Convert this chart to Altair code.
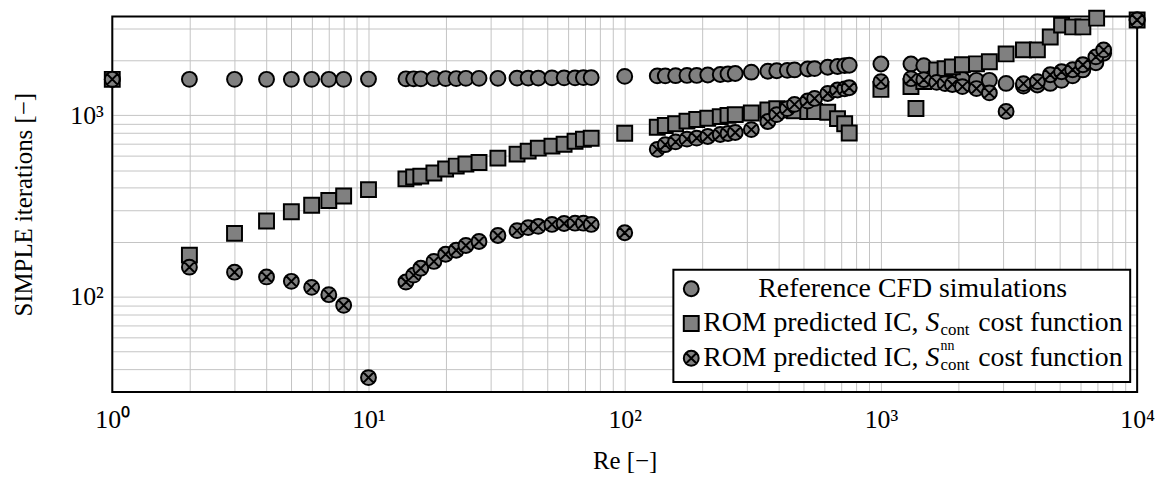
import altair as alt
import pandas as pd

# ---------------- data ----------------
re_ref = [1, 2, 3, 4, 5, 6, 7, 8, 10,
          14, 15, 16, 18, 20, 22, 24, 27, 32, 38, 42, 46, 52, 58, 64, 69, 74,
          100,
          134, 144, 158, 175, 191, 211, 236, 253, 270, 312, 362, 392, 431, 460, 518, 551, 620, 677, 722, 752,
          1000,
          1310, 1470, 1650, 1780, 1900, 2080, 2360, 2650, 3080, 3600, 4080, 4580, 5070, 5600, 6140, 6900, 7400,
          10000]
it_ref = [1580, 1580, 1580, 1580, 1580, 1580, 1580, 1580, 1585,
          1590, 1590, 1590, 1595, 1595, 1595, 1600, 1600, 1600, 1605, 1605, 1605, 1610, 1610, 1610, 1615, 1615,
          1640,
          1650, 1650, 1655, 1660, 1660, 1670, 1680, 1690, 1700, 1730, 1750, 1760, 1770, 1780, 1800, 1810, 1840, 1860, 1880, 1890,
          1920,
          1920, 1880, 1750, 1680, 1620, 1580, 1560, 1560, 1500, 1450, 1470, 1500, 1560, 1650, 1780, 1950, 2200,
          3350]

re_rom = [1, 2, 3, 4, 5, 6, 7, 8, 10,
          14, 15, 16, 18, 20, 22, 24, 27, 32, 38, 42, 46, 52, 58, 64, 69, 74,
          100,
          134, 144, 158, 175, 191, 211, 236, 253, 270, 312, 362, 392, 431, 460, 518, 551, 620, 677, 722, 752,
          1000,
          1310, 1370, 1470, 1650, 1780, 1900, 2080, 2360, 2650, 3080, 3600, 4080, 4580, 5070, 5600, 6140, 6950,
          10000]
it_rom = [1580, 170, 224, 262, 295, 320, 340, 360, 390,
          447, 458, 463, 482, 507, 526, 540, 550, 582, 612, 636, 660, 677, 694, 721, 739, 749,
          797,
          860, 880, 900, 930, 950, 965, 985, 1000, 1010, 1030, 1070, 1090, 1070, 1060, 1050, 1050, 1040, 960, 900, 800,
          1390,
          1440, 1092, 1534, 1780, 1810, 1850, 1900, 1923, 1973, 2180, 2295, 2295, 2700, 3140, 3070, 3070, 3430,
          3350]

re_nn = [1, 2, 3, 4, 5, 6, 7, 8, 10,
         14, 15, 16, 18, 20, 22, 24, 27, 32, 38, 42, 46, 52, 58, 64, 69, 74,
         100,
         134, 144, 158, 175, 191, 211, 236, 253, 270, 312, 362, 392, 431, 460, 518, 551, 620, 677, 722, 752,
         1000,
         1310, 1470, 1650, 1780, 1900, 2080, 2360, 2650, 3080, 3600, 4080, 4580, 5070, 5600, 6140, 6900, 7400,
         10000]
it_nn = [1580, 146, 137, 129, 122, 113, 103, 90, 36,
         121, 132, 144, 157, 172, 181, 192, 202, 218, 232, 241, 245, 251, 254, 255, 255, 251,
         226,
         650, 690, 715, 740, 750, 765, 785, 795, 805, 835, 925, 1010, 1090, 1150, 1200, 1240, 1320, 1380, 1400, 1420,
         1534,
         1593, 1573, 1520, 1496, 1480, 1440, 1405, 1330, 1052, 1496, 1534, 1675, 1740, 1783, 1900, 2100, 2295,
         3350]

x_grid = [m * 10 ** e for e in range(4) for m in range(1, 10)] + [10000]
y_grid = [30, 40, 50, 60, 70, 80, 90,
          100, 200, 300, 400, 500, 600, 700, 800, 900,
          1000, 2000, 3000]

legend_labels = ["Reference CFD simulations", "ROM predicted IC,", "cost function"]

FONT = "Liberation Serif"
W, H = 1032, 378
GRAY = "#808080"
CROSSED = ("M1,0A1,1,0,1,1,-1,0A1,1,0,1,1,1,0Z"
           "M-0.7071,-0.7071L0.7071,0.7071M-0.7071,0.7071L0.7071,-0.7071")

df_ref = pd.DataFrame({"Re": re_ref, "it": it_ref})
df_rom = pd.DataFrame({"Re": re_rom, "it": it_rom})
df_nn = pd.DataFrame({"Re": re_nn, "it": it_nn})
one = pd.DataFrame({"k": [0]})

x_enc = alt.X("Re:Q",
              scale=alt.Scale(type="log", domain=[1, 10000], nice=False),
              axis=alt.Axis(values=x_grid, title="Re [\u2212]",
                            labelExpr="datum.value==1?'10\u2070':datum.value==10?'10\u00b9':"
                                      "datum.value==100?'10\u00b2':datum.value==1000?'10\u00b3':"
                                      "datum.value==10000?'10\u2074':''",
                            labelOverlap=False, labelFlush=False, labelPadding=15,
                            titlePadding=16))
y_enc = alt.Y("it:Q",
              scale=alt.Scale(type="log", domain=[30, 3500], nice=False),
              axis=alt.Axis(values=y_grid, title="SIMPLE iterations [\u2212]",
                            labelExpr="datum.value==100?'10\u00b2':datum.value==1000?'10\u00b3':''",
                            labelOverlap=False, labelFlush=False, labelPadding=9,
                            titlePadding=34))

pt = dict(filled=True, fill=GRAY, stroke="black", strokeWidth=2, size=225, opacity=1)

frame = alt.Chart(one).mark_rect(fill="transparent", stroke="black", strokeWidth=2).encode(
    x=alt.value(0), x2=alt.value(W), y=alt.value(0), y2=alt.value(H))

ref = alt.Chart(df_ref).mark_point(shape="circle", **pt).encode(x=x_enc, y=y_enc)
rom = alt.Chart(df_rom).mark_point(shape="square", **pt).encode(x="Re:Q", y="it:Q")
nn = alt.Chart(df_nn).mark_point(shape=CROSSED, **pt).encode(x="Re:Q", y="it:Q")

# ---------------- legend (decoration, pixel layout) ----------------
BX0, BX1, BY0, BY1 = 565, 1025, 255, 368
rows = [274, 309, 344]
SX = 583
TX = 595
FS = 28

box = alt.Chart(one).mark_rect(fill="white", stroke="black", strokeWidth=2).encode(
    x=alt.value(BX0), x2=alt.value(BX1), y=alt.value(BY0), y2=alt.value(BY1))

sym1 = alt.Chart(one).mark_point(shape="circle", **pt).encode(x=alt.value(SX), y=alt.value(rows[0]))
sym2 = alt.Chart(one).mark_point(shape="square", **pt).encode(x=alt.value(SX), y=alt.value(rows[1]))
sym3 = alt.Chart(one).mark_point(shape=CROSSED, **pt).encode(x=alt.value(SX), y=alt.value(rows[2]))

def txt(s, x, y, size=FS, align="left", style="normal"):
    return alt.Chart(one).mark_text(text=s, font=FONT, fontSize=size, align=align,
                                    baseline="middle", fontStyle=style, color="black").encode(
        x=alt.value(x), y=alt.value(y))

wA = 7.749 * FS
sp = 0.25 * FS
xS = TX + wA + sp
xSub = xS + 0.5 * FS + 1
wSub = 1.722 * 18
xCost = xSub + wSub + sp

legend_layers = [box, sym1, sym2, sym3,
                 txt(legend_labels[0], (TX + BX1 - 8) / 2, rows[0], align="center")]
for r in rows[1:]:
    legend_layers += [txt(legend_labels[1], TX, r),
                      txt("S", xS, r, style="italic"),
                      txt("cont", xSub, r + 7, size=17),
                      txt(legend_labels[2], xCost, r)]
legend_layers.append(txt("nn", xSub, rows[2] - 12, size=14))

chart = alt.layer(frame, ref, rom, nn, *legend_layers).properties(
    width=W, height=H,
    padding={"left": 105, "top": 7, "right": 20, "bottom": 88},
    autosize=alt.AutoSizeParams(type="none"),
).configure_view(stroke=None).configure_axis(
    grid=True, gridColor="#c4c4c4", gridWidth=1, ticks=False, domain=False,
    labelFont=FONT, labelFontSize=26, labelColor="black",
    titleFont=FONT, titleFontSize=25, titleFontWeight="normal", titleColor="black",
)

chart.save("out.html", embed_options={"renderer": "svg", "actions": False})
